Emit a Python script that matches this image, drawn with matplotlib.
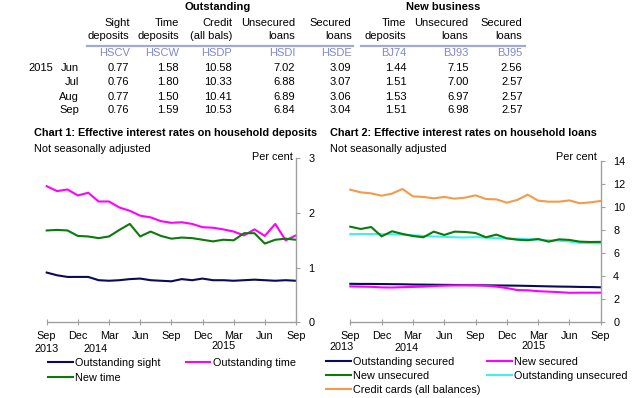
import matplotlib
matplotlib.use("Agg")
import matplotlib.pyplot as plt
from matplotlib import transforms
from matplotlib.lines import Line2D

plt.rcParams['font.family'] = ['Liberation Sans', 'DejaVu Sans']
FS = 7.8
FT = 8.0

# ---------------- Table data ----------------
col_headers = ["Sight\ndeposits", "Time\ndeposits", "Credit\n(all bals)", "Unsecured\nloans",
               "Secured\nloans", "Time\ndeposits", "Unsecured\nloans", "Secured\nloans"]
col_codes = ["HSCV", "HSCW", "HSDP", "HSDI", "HSDE", "BJ74", "BJ93", "BJ95"]
row_months = ["Jun", "Jul", "Aug", "Sep"]
row_year = "2015"
table_values = [
    ["0.77", "1.58", "10.58", "7.02", "3.09", "1.44", "7.15", "2.56"],
    ["0.76", "1.80", "10.33", "6.88", "3.07", "1.51", "7.00", "2.57"],
    ["0.77", "1.50", "10.41", "6.89", "3.06", "1.53", "6.97", "2.57"],
    ["0.76", "1.59", "10.53", "6.84", "3.04", "1.51", "6.98", "2.57"],
]

# ---------------- Chart data (monthly, Sep 2013 - Sep 2015) ----------------
months = list(range(25))
tick_pos = [0, 3, 6, 9, 12, 15, 18, 21, 24]
tick_labels = ["Sep", "Dec", "Mar", "Jun", "Sep", "Dec", "Mar", "Jun", "Sep"]
year_labels = ["2013", "2014", "2015"]

outstanding_sight = [0.91, 0.86, 0.83, 0.83, 0.83, 0.77, 0.76, 0.77, 0.79, 0.80, 0.77, 0.76, 0.75,
                     0.79, 0.77, 0.80, 0.77, 0.77, 0.76, 0.77, 0.78, 0.77, 0.76, 0.77, 0.76]
outstanding_time = [2.49, 2.40, 2.43, 2.32, 2.37, 2.21, 2.21, 2.10, 2.04, 1.95, 1.92, 1.85, 1.82,
                    1.83, 1.80, 1.74, 1.73, 1.70, 1.66, 1.59, 1.70, 1.58, 1.80, 1.50, 1.59]
new_time = [1.68, 1.69, 1.68, 1.58, 1.57, 1.54, 1.57, 1.69, 1.80, 1.57, 1.66, 1.58, 1.53,
            1.55, 1.54, 1.51, 1.48, 1.51, 1.50, 1.63, 1.63, 1.44, 1.51, 1.53, 1.51]

outstanding_secured = [3.34, 3.33, 3.33, 3.32, 3.31, 3.30, 3.28, 3.27, 3.26, 3.25, 3.24, 3.23, 3.22,
                       3.21, 3.20, 3.19, 3.18, 3.16, 3.14, 3.12, 3.10, 3.09, 3.07, 3.06, 3.04]
new_secured = [3.12, 3.10, 3.08, 3.03, 3.02, 3.05, 3.07, 3.10, 3.15, 3.18, 3.20, 3.21, 3.21,
               3.18, 3.10, 2.97, 2.80, 2.78, 2.70, 2.66, 2.62, 2.56, 2.57, 2.57, 2.57]
new_unsecured = [8.30, 8.10, 8.27, 7.46, 7.90, 7.67, 7.49, 7.38, 7.87, 7.58, 7.87, 7.84, 7.75,
                 7.38, 7.61, 7.29, 7.17, 7.12, 7.23, 7.00, 7.20, 7.15, 7.00, 6.97, 6.98]
outstanding_unsecured = [7.65, 7.66, 7.66, 7.65, 7.64, 7.60, 7.55, 7.50, 7.45, 7.42, 7.38, 7.36, 7.40,
                         7.35, 7.30, 7.27, 7.25, 7.22, 7.18, 7.12, 7.08, 7.02, 6.88, 6.89, 6.84]
credit_cards = [11.51, 11.28, 11.19, 10.99, 11.17, 11.57, 10.93, 10.88, 10.76, 10.88, 10.73, 10.82, 11.02,
                10.70, 10.67, 10.38, 10.62, 11.08, 10.56, 10.47, 10.47, 10.58, 10.33, 10.41, 10.53]

C_NAVY = "#0a0a5a"
C_MAG = "#ff00ff"
C_GREEN = "#0a7a0a"
C_CYAN = "#3ff0ee"
C_ORANGE = "#f59a4a"
C_CODE = "#8088c8"
C_RULE = "#a4aacb"
C_SPINE = "#a0a0a0"

W, H = 640, 398
fig = plt.figure(figsize=(6.4, 3.98), dpi=100)

def fx(px):
    return px / W

def fy(py):
    return 1 - py / H

# ---------------- Table ----------------
col_right = [129.5, 179, 232, 295, 351.5, 406.5, 468.5, 522.5]
fig.text(fx(218), fy(7), "Outstanding", ha="center", va="center", fontsize=FT, fontweight="bold")
fig.text(fx(443), fy(7), "New business", ha="center", va="center", fontsize=FT, fontweight="bold")
for x, h, c in zip(col_right, col_headers, col_codes):
    l1, l2 = h.split("\n")
    fig.text(fx(x), fy(23), l1, ha="right", va="center", fontsize=FT)
    fig.text(fx(x), fy(36), l2, ha="right", va="center", fontsize=FT)
    fig.text(fx(x), fy(53), c, ha="right", va="center", fontsize=FT, color=C_CODE)
fig.add_artist(Line2D([fx(87), fx(353)], [fy(46), fy(46)], color=C_RULE, lw=1.6))
fig.add_artist(Line2D([fx(361), fx(525)], [fy(46), fy(46)], color=C_RULE, lw=1.6))
row_y = [68, 82, 96.5, 110]
fig.text(fx(53), fy(row_y[0]), row_year, ha="right", va="center", fontsize=FT)
for ry, m, vals in zip(row_y, row_months, table_values):
    fig.text(fx(79), fy(ry), m, ha="right", va="center", fontsize=FT)
    for x, v in zip(col_right, vals):
        fig.text(fx(x), fy(ry), v, ha="right", va="center", fontsize=FT)

# ---------------- Charts ----------------
def style_axis(ax, ylim, yticks):
    ax.set_xlim(0, 24)
    ax.set_ylim(*ylim)
    ax.set_yticks(yticks)
    ax.yaxis.tick_right()
    ax.set_xticks(tick_pos)
    ax.set_xticklabels(tick_labels)
    for s in ["top", "left"]:
        ax.spines[s].set_visible(False)
    for s in ["right", "bottom"]:
        ax.spines[s].set_color(C_SPINE)
        ax.spines[s].set_linewidth(1.0)
    ax.tick_params(axis="x", direction="inout", length=5, width=0.8, color=C_SPINE,
                   labelsize=FS, pad=4)
    ax.tick_params(axis="y", direction="out", length=3, width=0.8, color=C_SPINE,
                   labelsize=FS, pad=6)
    ax.patch.set_alpha(0)

LW = 1.5

# Chart 1
ax1 = fig.add_axes([fx(46.7), fy(322.3), fx(296 - 46.7), fy(158.3) - fy(322.3)])
style_axis(ax1, (0, 3), [0, 1, 2, 3])
l_os, = ax1.plot(months, outstanding_sight, color=C_NAVY, lw=LW, label="Outstanding sight")
l_ot, = ax1.plot(months, outstanding_time, color=C_MAG, lw=LW, label="Outstanding time")
l_nt, = ax1.plot(months, new_time, color=C_GREEN, lw=LW, label="New time")
for ln in (l_os, l_ot, l_nt):
    ln.set_clip_on(False)
fig.text(fx(34), fy(133), "Chart 1: Effective interest rates on household deposits",
         ha="left", va="center", fontsize=FS, fontweight="bold")
fig.text(fx(34), fy(149), "Not seasonally adjusted", ha="left", va="center", fontsize=FS)
fig.text(fx(293), fy(157), "Per cent", ha="right", va="center", fontsize=FS)
tr1 = transforms.blended_transform_factory(ax1.transData, fig.transFigure)
for xpos, yr, ypx in zip([0, 4.75, 17.0], year_labels, [349, 349, 346]):
    ax1.text(xpos, fy(ypx), yr, transform=tr1, ha="center", va="center", fontsize=FS)
leg1 = fig.legend([l_os, l_nt, l_ot], ["Outstanding sight", "New time", "Outstanding time"],
                  ncol=2, loc="upper left", bbox_to_anchor=(fx(48), fy(358)),
                  frameon=False, fontsize=FS, handlelength=2.3, handletextpad=0.2,
                  columnspacing=2.3, labelspacing=0.45, borderaxespad=0, borderpad=0)

# Chart 2
ax2 = fig.add_axes([fx(350.3), fy(322.3), fx(600.7 - 350.3), fy(161) - fy(322.3)])
style_axis(ax2, (0, 14), [0, 2, 4, 6, 8, 10, 12, 14])
l_osec, = ax2.plot(months, outstanding_secured, color=C_NAVY, lw=LW, label="Outstanding secured")
l_nsec, = ax2.plot(months, new_secured, color=C_MAG, lw=LW, label="New secured")
l_ou, = ax2.plot(months, outstanding_unsecured, color=C_CYAN, lw=LW, label="Outstanding unsecured")
l_nu, = ax2.plot(months, new_unsecured, color=C_GREEN, lw=LW, label="New unsecured")
l_cc, = ax2.plot(months, credit_cards, color=C_ORANGE, lw=LW, label="Credit cards (all balances)")
for ln in (l_osec, l_nsec, l_ou, l_nu, l_cc):
    ln.set_clip_on(False)
fig.text(fx(330), fy(133), "Chart 2: Effective interest rates on household loans",
         ha="left", va="center", fontsize=FS, fontweight="bold")
fig.text(fx(330), fy(149), "Not seasonally adjusted", ha="left", va="center", fontsize=FS)
fig.text(fx(597), fy(157), "Per cent", ha="right", va="center", fontsize=FS)
tr2 = transforms.blended_transform_factory(ax2.transData, fig.transFigure)
for xpos, yr, ypx in zip([-0.8, 5.4, 17.6], year_labels, [347, 348, 346]):
    ax2.text(xpos, fy(ypx), yr, transform=tr2, ha="center", va="center", fontsize=FS)
leg2 = fig.legend([l_osec, l_nu, l_cc, l_nsec, l_ou],
                  ["Outstanding secured", "New unsecured", "Credit cards (all balances)",
                   "New secured", "Outstanding unsecured"],
                  ncol=2, loc="upper left", bbox_to_anchor=(fx(326), fy(357)),
                  frameon=False, fontsize=FS, handlelength=2.3, handletextpad=0.2,
                  columnspacing=0.6, labelspacing=0.38, borderaxespad=0, borderpad=0)

fig.savefig("out.png", dpi=100)
